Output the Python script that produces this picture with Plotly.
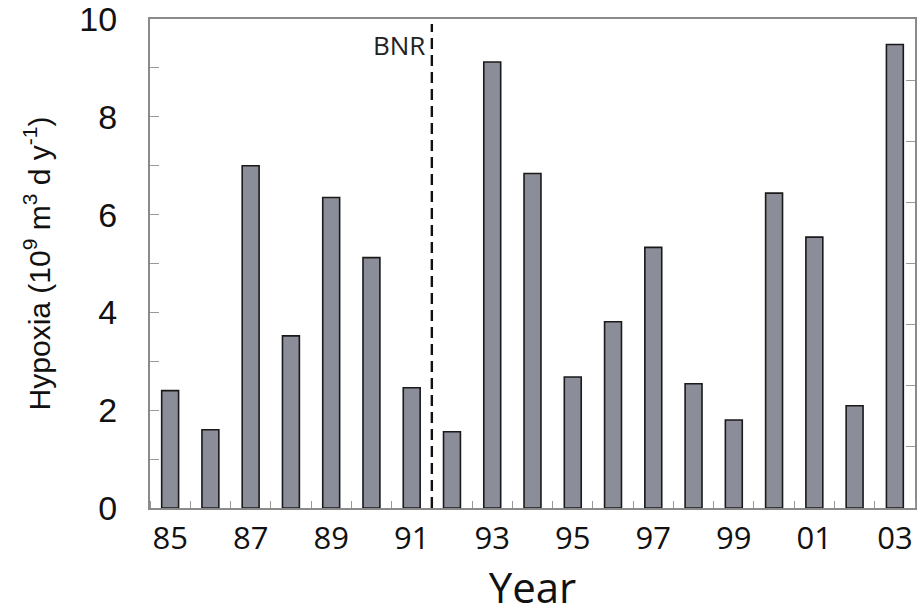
import plotly.graph_objects as go

# Annual hypoxic volume, 1985-2003
years = list(range(1985, 2004))
hypoxia = [2.40, 1.60, 7.00, 3.52, 6.35, 5.12, 2.46, 1.56, 9.12, 6.84,
           2.68, 3.81, 5.33, 2.54, 1.80, 6.44, 5.54, 2.09, 9.48]

label_years = list(range(1985, 2004, 2))
label_text = ["85", "87", "89", "91", "93", "95", "97", "99", "01", "03"]

# left axis: labelled every 2, with plain ticks at every unit
y_ticks = [0, 2, 4, 6, 8, 10]
y_text = ["0", "2", "4", "6", "8", "10"]
# right axis: unlabelled ticks dividing the range into eighths
right_ticks = [0, 1.25, 2.5, 3.75, 5, 6.25, 7.5, 8.75, 10]

bnr_year = 1991.5

fig = go.Figure()
fig.add_trace(go.Bar(
    x=years, y=hypoxia, width=0.42,
    marker=dict(color="#8b8d98", line=dict(color="#1a1a1a", width=1.6)),
    showlegend=False,
))
# invisible anchor so the right-hand axis is drawn
fig.add_trace(go.Scatter(x=[years[0]], y=[0], yaxis="y2", mode="markers",
                         marker=dict(opacity=0), showlegend=False,
                         hoverinfo="skip"))

fig.add_shape(type="line", x0=bnr_year, x1=bnr_year, y0=0, y1=0.99,
              xref="x", yref="paper",
              line=dict(color="#111111", width=2.4, dash="11px,6px"))
fig.add_annotation(x=bnr_year, y=9.47, xref="x", yref="y", text="BNR",
                   showarrow=False, xanchor="right", xshift=-5,
                   font=dict(family="Open Sans", size=26, color="#222222"))

fig.update_layout(
    width=920, height=615,
    margin=dict(l=150, r=5, t=19, b=107),
    paper_bgcolor="white", plot_bgcolor="white",
    bargap=0.5,
    xaxis=dict(
        range=[1984.5, 2003.5],
        tickmode="array", tickvals=label_years, ticktext=label_text,
        ticks="", ticklabelstandoff=2, ticklabeloverflow="allow",
        tickfont=dict(family="Open Sans", size=31, color="#111111"),
        minor=dict(tickmode="linear", tick0=1985.5, dtick=1, ticks="inside",
                   ticklen=7, tickcolor="#999999", tickwidth=1),
        showline=True, linecolor="#8a8a8a", linewidth=2, mirror=True,
        showgrid=False, zeroline=False, automargin=False,
        title=dict(text="Year",
                   font=dict(family="Open Sans", size=42, color="#111111"),
                   standoff=6),
    ),
    yaxis=dict(
        range=[0, 10],
        tickmode="array", tickvals=y_ticks, ticktext=y_text,
        ticks="inside", ticklen=9, tickcolor="#999999", tickwidth=1,
        minor=dict(tickmode="linear", tick0=0, dtick=1, ticks="inside",
                   ticklen=9, tickcolor="#999999", tickwidth=1),
        ticklabelstandoff=24, ticklabeloverflow="allow",
        tickfont=dict(family="Liberation Sans", size=34, color="#111111"),
        showline=True, linecolor="#8a8a8a", linewidth=2,
        showgrid=False, zeroline=False, automargin=False,
        title=dict(text="Hypoxia (10<sup>9</sup> m<sup>3</sup> d y<sup>-1</sup>)",
                   font=dict(family="Liberation Sans", size=30, color="#111111"),
                   standoff=20),
    ),
    yaxis2=dict(
        overlaying="y", side="right", range=[0, 10],
        tickmode="array", tickvals=right_ticks, showticklabels=False,
        ticks="inside", ticklen=9, tickcolor="#999999", tickwidth=1,
        showline=True, linecolor="#8a8a8a", linewidth=2,
        showgrid=False, zeroline=False, automargin=False,
    ),
)

fig.write_html("out.html")
